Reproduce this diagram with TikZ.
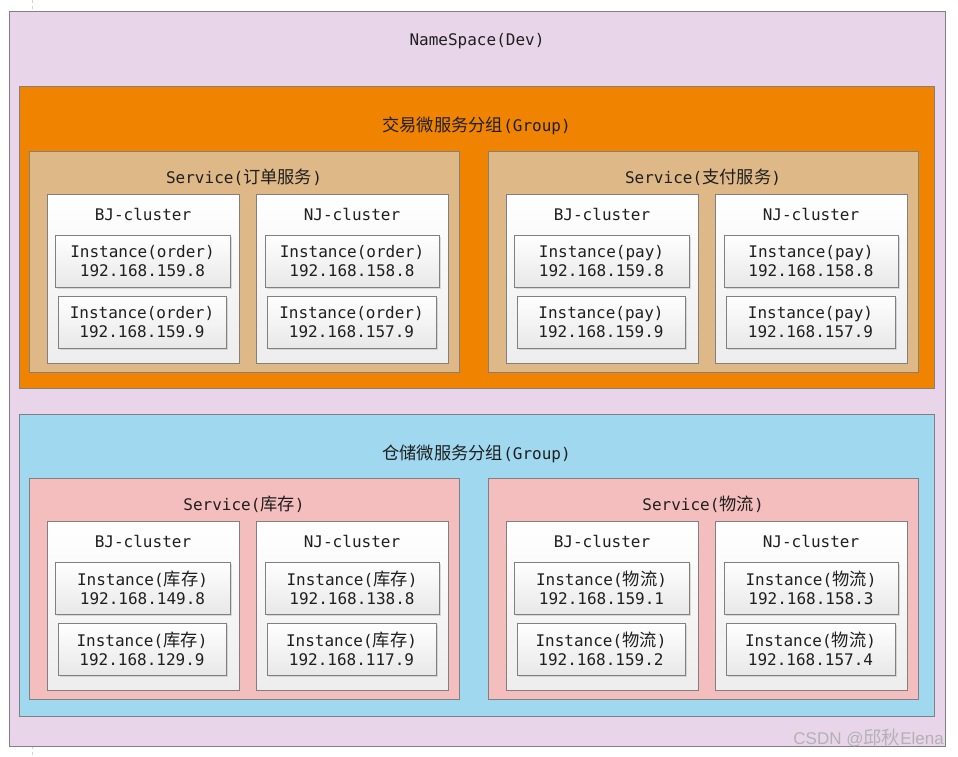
\documentclass[tikz,border=0pt]{standalone}
\usepackage{fontspec}
\setmainfont{DejaVu Sans Mono}
\newfontfamily\cjk{Noto Sans CJK SC}[Scale=1.08]
\newfontfamily\wmfont{Liberation Sans}
\newcommand\zh[1]{{\cjk #1}}
\definecolor{nspink}{RGB}{233,213,233}
\definecolor{grouporange}{RGB}{240,131,0}
\definecolor{svctan}{RGB}{222,184,135}
\definecolor{groupblue}{RGB}{160,216,239}
\definecolor{svcpink}{RGB}{245,190,190}
\definecolor{edgegray}{RGB}{128,128,128}
\usetikzlibrary{positioning,shadows}

\begin{document}
\begin{tikzpicture}[x=1pt,y=-1pt,
    box/.style={draw=edgegray, line width=0.8pt, anchor=north west, inner sep=0pt, outer sep=0pt},
    lbl/.style={font=\fontsize{16}{19}\selectfont, text=black!88, inner sep=0pt},
    clusterbox/.style={box, top color=white, bottom color=black!7},
    instbox/.style={box, lbl, align=center, top color=white, bottom color=black!9,
        drop shadow={shadow xshift=2pt, shadow yshift=-2pt, opacity=0.25}}]
    \useasboundingbox (0,0) rectangle (958,757);
    % page guide of the screenshot
    \draw[dashed, gray!35] (32,0) -- (32,11);
    \draw[dashed, gray!35] (32,746) -- (32,757);
    % namespace
    \node[box, fill=nspink, minimum width=936, minimum height=735] (ns) at (9,11) {};
    \node[lbl, yshift=-30pt] (nstitle) at (ns.north) {NameSpace(Dev)};
    % groups
    \node[box, fill=grouporange, minimum width=915, minimum height=302] (trade) at (19,86) {};
    \node[lbl, yshift=-40pt] (tradetitle) at (trade.north) {\zh{交易微服务分组}(Group)};
    \node[box, fill=groupblue, minimum width=915, minimum height=302] (store) at (19,414) {};
    \node[lbl, yshift=-40pt] (storetitle) at (store.north) {\zh{仓储微服务分组}(Group)};
    % services with two clusters each
    \foreach \sx/\sy/\sfill/\sname/\kind/\ipa/\ipb/\ipc/\ipd [count=\k] in {
        0/0/svctan/\zh{订单服务}/order/159.8/159.9/158.8/157.9,
        459/0/svctan/\zh{支付服务}/pay/159.8/159.9/158.8/157.9,
        0/327/svcpink/\zh{库存}/\zh{库存}/149.8/129.9/138.8/117.9,
        459/327/svcpink/\zh{物流}/\zh{物流}/159.1/159.2/158.3/157.4} {
      \begin{scope}[shift={(\sx,\sy)}]
        \node[box, fill=\sfill, minimum width=430, minimum height=221] (svc\k) at (29,151) {};
        \node[lbl, yshift=-26pt] (svc\k title) at (svc\k.north) {Service(\sname)};
        \node[clusterbox, minimum width=192, minimum height=169] (bj\k) at (47,194) {};
        \node[lbl, yshift=-20pt] (bj\k title) at (bj\k.north) {BJ-cluster};
        \node[clusterbox, minimum width=192, minimum height=169] (nj\k) at (256,194) {};
        \node[lbl, yshift=-20pt] (nj\k title) at (nj\k.north) {NJ-cluster};
        \node[instbox, minimum width=175, minimum height=52] (bj\k a) at (55,235) {Instance(\kind)\\192.168.\ipa};
        \node[instbox, minimum width=168, minimum height=52] (bj\k b) at (58,296) {Instance(\kind)\\192.168.\ipb};
        \node[instbox, minimum width=174, minimum height=52] (nj\k a) at (265,235) {Instance(\kind)\\192.168.\ipc};
        \node[instbox, minimum width=169, minimum height=52] (nj\k b) at (267,296) {Instance(\kind)\\192.168.\ipd};
      \end{scope}
    }
    % watermark
    \node[font=\wmfont\fontsize{17}{19}\selectfont, text=gray!60, anchor=south east, inner sep=0pt] (mark) at (944,747) {CSDN @\zh{邱秋}Elena};
\end{tikzpicture}
\end{document}
